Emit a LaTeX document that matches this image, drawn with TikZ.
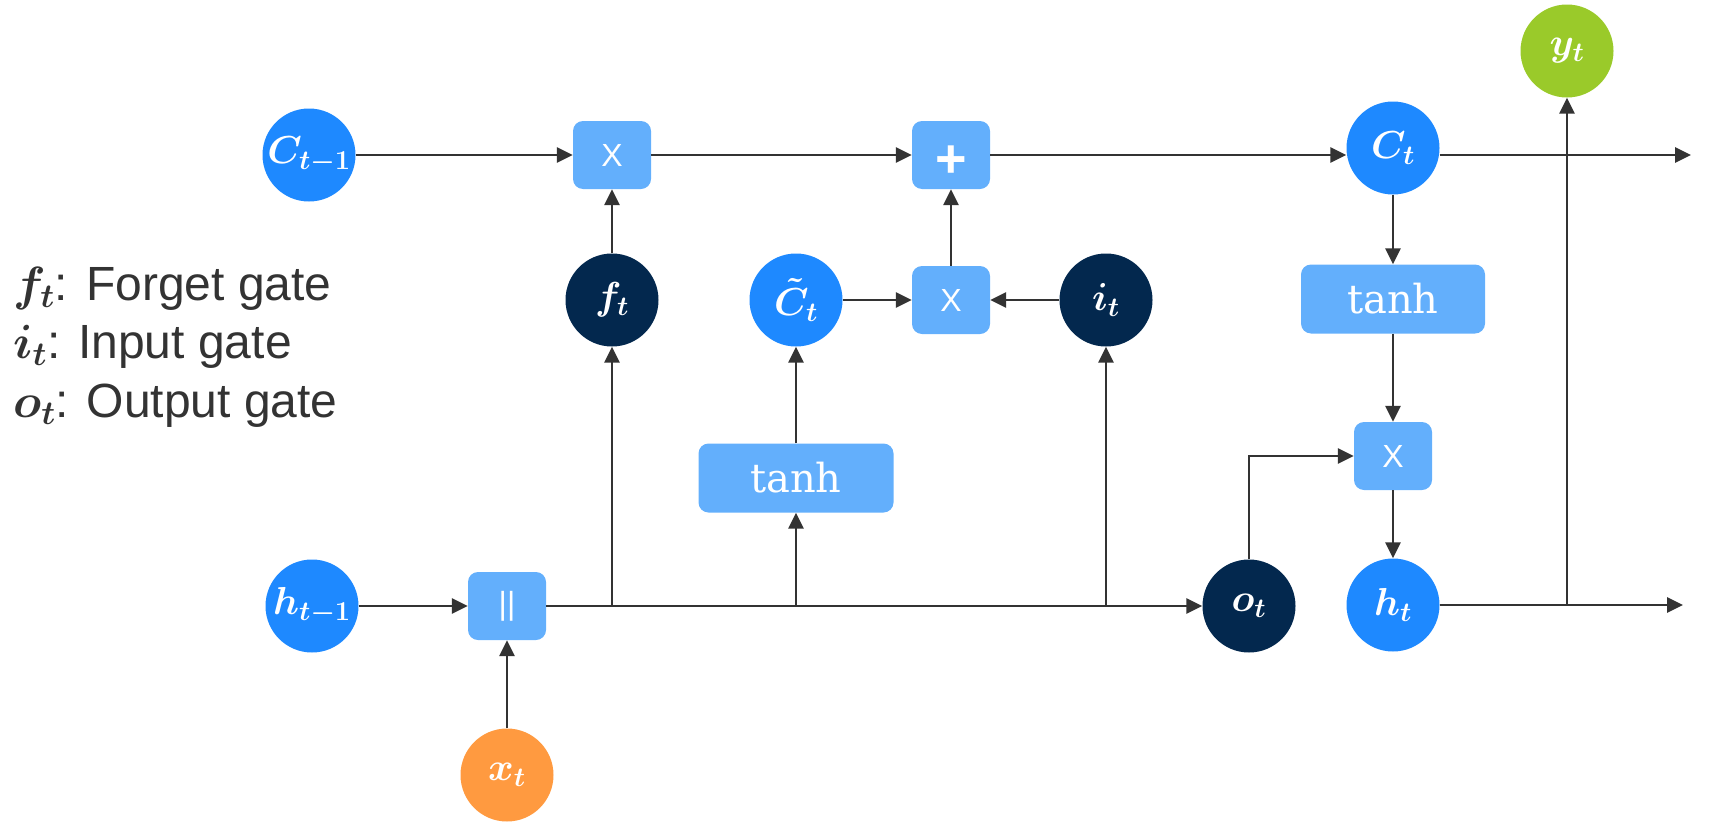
\RequirePackage{fix-cm}
\documentclass[tikz,border=0pt]{standalone}
\usepackage{fontspec}
\newfontfamily\lsans{Liberation Sans}
\newfontfamily\dserif{DejaVu Serif}
\usetikzlibrary{arrows.meta}
\definecolor{cblue}{RGB}{30,137,255}
\definecolor{cnavy}{RGB}{3,40,78}
\definecolor{cbox}{RGB}{99,175,252}
\definecolor{corange}{RGB}{255,154,64}
\definecolor{cgreen}{RGB}{154,202,42}
\definecolor{cline}{RGB}{51,51,51}
\definecolor{ctext}{RGB}{51,51,51}
\begin{document}
\begin{tikzpicture}[x=1pt,y=-1pt,
  circ/.style={circle, minimum size=93pt, inner sep=0pt, text=white, font=\fontsize{39}{47}\selectfont\boldmath},
  bluec/.style={circ, fill=cblue},
  navyc/.style={circ, fill=cnavy},
  opbox/.style={rounded corners=10pt, fill=cbox, minimum width=78pt, minimum height=68pt, inner sep=0pt, text=white},
  xlab/.style={opbox, font=\lsans\fontsize{32}{38}\selectfont},
  tanhbox/.style={opbox, minimum height=69pt, font=\dserif\fontsize{40}{48}\selectfont},
  legend/.style={anchor=base west, inner sep=0pt, text=ctext, font=\lsans\fontsize{48}{58}\selectfont\boldmath},
  arr/.style={draw=cline, line width=2.8pt, -{Triangle[length=16pt,width=15pt]}}
]
\useasboundingbox (0,0) rectangle (1732,838);

% legend
\node[legend] (lf) at (13,300) {$f_t$: Forget gate};
\node[legend] (li) at (13,358) {$i_t$: Input gate};
\node[legend] (lo) at (13,417) {$o_t$: Output gate};

% circles
\node[bluec] (Cprev) at (309,155) {$C_{t-1}$};
\node[bluec] (Ct) at (1393,148) {$C_t$};
\node[circ, fill=cgreen] (yt) at (1567,51) {$y_t$};
\node[navyc] (ft) at (612,300) {$f_t$};
\node[bluec] (Ctil) at (796,300) {$\tilde{C}_t$};
\node[navyc] (it) at (1106,300) {$i_t$};
\node[bluec] (hprev) at (312,606) {$h_{t-1}$};
\node[circ, fill=corange] (xt) at (507,775) {$x_t$};
\node[navyc] (ot) at (1249,606) {$o_t$};
\node[bluec] (ht) at (1393,605) {$h_t$};

% operation boxes
\node[xlab] (mult1) at (612,155) {X};
\node[opbox, font=\lsans\bfseries\fontsize{54}{60}\selectfont, text height=44pt, text depth=0pt] (plus) at (951,155) {+};
\node[xlab] (mult2) at (951,300) {X};
\node[xlab] (mult3) at (1393,456) {X};
\node[xlab] (concat) at (507,606) {||};
\node[tanhbox, minimum width=184pt] (tanhR) at (1393,299) {tanh};
\node[tanhbox, minimum width=195pt] (tanhL) at (796,478) {tanh};

% free ends
\coordinate (endC) at (1691,155);
\coordinate (endH) at (1683,605);

% connectors
\draw[arr] (Cprev) -- (mult1);
\draw[arr] (mult1) -- (plus);
\draw[arr] (plus) -- (plus -| Ct.west);
\draw[arr] (Ct.east |- plus) -- (endC);
\draw[arr] (ft) -- (mult1);
\draw[arr] (Ctil) -- (mult2);
\draw[arr] (it) -- (mult2);
\draw[arr] (mult2) -- (plus);
\draw[arr] (Ct) -- (tanhR);
\draw[arr] (tanhR) -- (mult3);
\draw[arr] (mult3) -- (ht);
\draw[arr] (ht) -- (endH);
\draw[arr] (yt |- ht) -- (yt);
\draw[arr] (hprev) -- (concat);
\draw[arr] (xt) -- (concat);
\draw[arr] (concat) -- (ot);
\draw[arr] (ft |- concat) -- (ft);
\draw[arr] (tanhL |- concat) -- (tanhL);
\draw[arr] (tanhL) -- (Ctil);
\draw[arr] (it |- concat) -- (it);
\draw[arr] (ot) |- (mult3);
\end{tikzpicture}
\end{document}
